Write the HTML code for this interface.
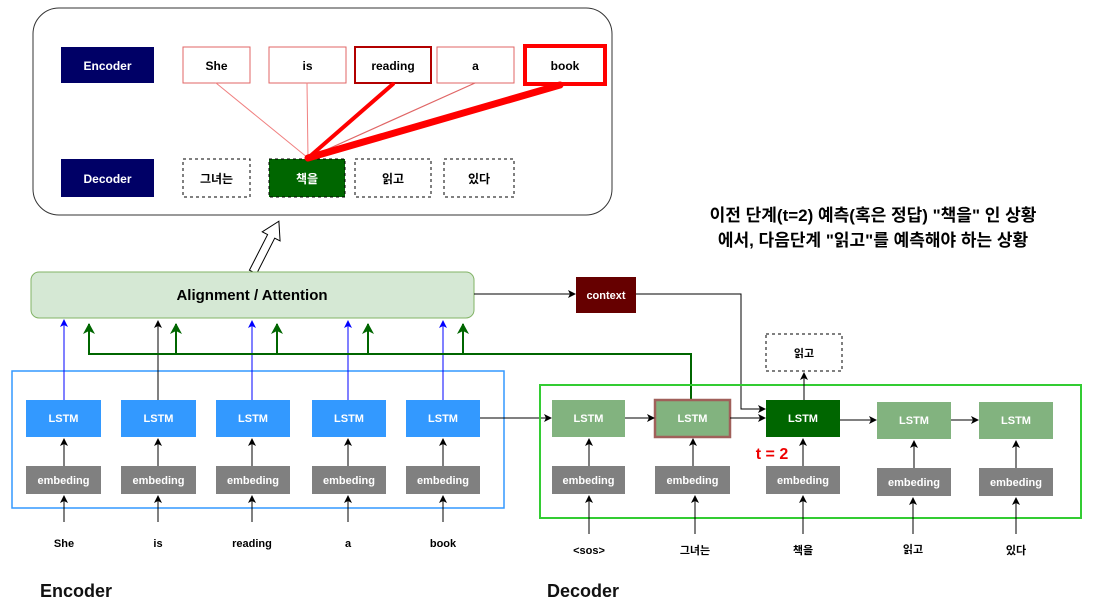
<!DOCTYPE html>
<html><head><meta charset="utf-8"><style>
body{margin:0;background:#fff;}
svg text{font-family:"Liberation Sans","Noto Sans CJK KR",sans-serif;font-weight:bold;}
</style></head><body>
<svg width="1110" height="611" viewBox="0 0 1110 611" xmlns="http://www.w3.org/2000/svg">
<defs>
<marker id="ak" markerWidth="8" markerHeight="8" refX="7" refY="4" orient="auto" markerUnits="userSpaceOnUse"><path d="M0,0 L8,4 L0,8 L2,4z" fill="#000"/></marker>
<marker id="ab" markerWidth="8" markerHeight="8" refX="7" refY="4" orient="auto" markerUnits="userSpaceOnUse"><path d="M0,0 L8,4 L0,8 L2,4z" fill="#0000ff"/></marker>
<marker id="ag" markerWidth="12" markerHeight="12" refX="10" refY="6" orient="auto" markerUnits="userSpaceOnUse"><path d="M0,0 L11,6 L0,12 L3,6z" fill="#006600"/></marker>
</defs>
<!-- top box -->
<rect x="33" y="8" width="579" height="207" rx="26" fill="#fff" stroke="#333" stroke-width="1"/>
<rect x="61" y="47" width="93" height="36" fill="#000066"/>
<text x="107.5" y="70" font-size="12" fill="#fff" text-anchor="middle">Encoder</text>
<rect x="61" y="159" width="93" height="38" fill="#000066"/>
<text x="107.5" y="183" font-size="12" fill="#fff" text-anchor="middle">Decoder</text>
<g font-size="12" text-anchor="middle" fill="#000">
<rect x="183" y="47" width="67" height="36" fill="#fff" stroke="#e06666" stroke-width="1"/><text x="216.5" y="70">She</text>
<rect x="269" y="47" width="77" height="36" fill="#fff" stroke="#e06666" stroke-width="1"/><text x="307.5" y="70">is</text>
<rect x="355" y="47" width="76" height="36" fill="#fff" stroke="#b20000" stroke-width="2"/><text x="393" y="70">reading</text>
<rect x="437" y="47" width="77" height="36" fill="#fff" stroke="#e06666" stroke-width="1"/><text x="475.5" y="70">a</text>
<rect x="525" y="46" width="80" height="38" fill="#fff" stroke="#ff0000" stroke-width="4"/><text x="565" y="70">book</text>
<rect x="183" y="159" width="67" height="38" fill="#fff" stroke="#000" stroke-dasharray="3,3"/><text x="216.5" y="183">그녀는</text>
<rect x="269" y="159" width="76" height="38" fill="#006600" stroke="#000" stroke-dasharray="3,3"/><text x="307" y="183" fill="#fff">책을</text>
<rect x="355" y="159" width="76" height="38" fill="#fff" stroke="#000" stroke-dasharray="3,3"/><text x="393" y="183">읽고</text>
<rect x="444" y="159" width="70" height="38" fill="#fff" stroke="#000" stroke-dasharray="3,3"/><text x="479" y="183">있다</text>
</g>
<g stroke-linecap="round">
<line x1="216" y1="83" x2="308" y2="158" stroke="#f08080" stroke-width="1"/>
<line x1="307" y1="83" x2="308" y2="158" stroke="#f08080" stroke-width="1"/>
<line x1="393" y1="84" x2="308" y2="158" stroke="#ff0000" stroke-width="4"/>
<line x1="475" y1="83" x2="308" y2="158" stroke="#e06666" stroke-width="1.2"/>
<line x1="560" y1="85" x2="308" y2="158" stroke="#ff0000" stroke-width="7"/>
</g>
<!-- hollow arrow -->
<g transform="translate(253,272) rotate(27)">
<path d="M-4,0 L4,0 L4,-40 L10,-40 L0,-57 L-10,-40 L-4,-40 Z" fill="#fff" stroke="#000" stroke-width="1"/>
</g>
<!-- attention -->
<rect x="31" y="272" width="443" height="46" rx="8" fill="#d5e8d4" stroke="#82b366"/>
<text x="252" y="300" font-size="15" text-anchor="middle">Alignment / Attention</text>
<rect x="576" y="277" width="60" height="36" fill="#660000"/>
<text x="606" y="299" font-size="11" fill="#fff" text-anchor="middle">context</text>
<line x1="474" y1="294" x2="575" y2="294" stroke="#000" marker-end="url(#ak)"/>
<polyline points="636,294 741,294 741,409 765,409" fill="none" stroke="#000" marker-end="url(#ak)"/>
<text x="873" y="221" font-size="17" text-anchor="middle">이전 단계(t=2) 예측(혹은 정답) "책을" 인 상황</text>
<text x="873" y="246" font-size="17" text-anchor="middle">에서, 다음단계 "읽고"를 예측해야 하는 상황</text>
<!-- encoder -->
<rect x="12" y="371" width="492" height="137" fill="none" stroke="#3399ff" stroke-width="1.5"/>
<g font-size="11" text-anchor="middle" fill="#fff">
<rect x="26" y="400" width="75" height="37" fill="#3399ff"/><text x="63.5" y="422">LSTM</text>
<rect x="121" y="400" width="75" height="37" fill="#3399ff"/><text x="158.5" y="422">LSTM</text>
<rect x="216" y="400" width="74" height="37" fill="#3399ff"/><text x="253" y="422">LSTM</text>
<rect x="312" y="400" width="74" height="37" fill="#3399ff"/><text x="349" y="422">LSTM</text>
<rect x="406" y="400" width="74" height="37" fill="#3399ff"/><text x="443" y="422">LSTM</text>
<rect x="26" y="466" width="75" height="28" fill="#808080"/><text x="63.5" y="484">embeding</text>
<rect x="121" y="466" width="75" height="28" fill="#808080"/><text x="158.5" y="484">embeding</text>
<rect x="216" y="466" width="74" height="28" fill="#808080"/><text x="253" y="484">embeding</text>
<rect x="312" y="466" width="74" height="28" fill="#808080"/><text x="349" y="484">embeding</text>
<rect x="406" y="466" width="74" height="28" fill="#808080"/><text x="443" y="484">embeding</text>
</g>
<g font-size="11" text-anchor="middle" fill="#000">
<text x="64" y="547">She</text><text x="158" y="547">is</text><text x="252" y="547">reading</text><text x="348" y="547">a</text><text x="443" y="547">book</text>
</g>
<g stroke="#000" marker-end="url(#ak)">
<line x1="64" y1="522" x2="64" y2="496"/><line x1="158" y1="522" x2="158" y2="496"/><line x1="252" y1="522" x2="252" y2="496"/><line x1="348" y1="522" x2="348" y2="496"/><line x1="443" y1="522" x2="443" y2="496"/>
<line x1="64" y1="466" x2="64" y2="439"/><line x1="158" y1="466" x2="158" y2="439"/><line x1="252" y1="466" x2="252" y2="439"/><line x1="348" y1="466" x2="348" y2="439"/><line x1="443" y1="466" x2="443" y2="439"/>
<line x1="158" y1="400" x2="158" y2="321"/>
<line x1="480" y1="418" x2="551" y2="418"/>
</g>
<g stroke="#0000ff" marker-end="url(#ab)">
<line x1="64" y1="400" x2="64" y2="320"/><line x1="252" y1="400" x2="252" y2="321"/><line x1="348" y1="400" x2="348" y2="321"/><line x1="443" y1="400" x2="443" y2="321"/>
</g>
<g stroke="#006600" stroke-width="2" fill="none">
<polyline points="691,400 691,354 89,354 89,324" marker-end="url(#ag)"/>
<line x1="176" y1="354" x2="176" y2="324" marker-end="url(#ag)"/>
<line x1="277" y1="354" x2="277" y2="324" marker-end="url(#ag)"/>
<line x1="368" y1="354" x2="368" y2="324" marker-end="url(#ag)"/>
<line x1="463" y1="354" x2="463" y2="324" marker-end="url(#ag)"/>
</g>
<!-- decoder -->
<rect x="540" y="385" width="541" height="133" fill="none" stroke="#33cc33" stroke-width="2"/>
<g font-size="11" text-anchor="middle" fill="#fff">
<rect x="552" y="400" width="73" height="37" fill="#82b37f"/><text x="588.5" y="422">LSTM</text>
<rect x="655" y="400" width="75" height="37" fill="#82b37f" stroke="#a0605a" stroke-width="2.5"/><text x="692.5" y="422">LSTM</text>
<rect x="766" y="400" width="74" height="37" fill="#006600"/><text x="803" y="422">LSTM</text>
<rect x="877" y="402" width="74" height="37" fill="#82b37f"/><text x="914" y="424">LSTM</text>
<rect x="979" y="402" width="74" height="37" fill="#82b37f"/><text x="1016" y="424">LSTM</text>
<rect x="552" y="466" width="73" height="28" fill="#808080"/><text x="588.5" y="484">embeding</text>
<rect x="655" y="466" width="75" height="28" fill="#808080"/><text x="692.5" y="484">embeding</text>
<rect x="766" y="466" width="74" height="28" fill="#808080"/><text x="803" y="484">embeding</text>
<rect x="877" y="468" width="74" height="28" fill="#808080"/><text x="914" y="486">embeding</text>
<rect x="979" y="468" width="74" height="28" fill="#808080"/><text x="1016" y="486">embeding</text>
</g>
<rect x="766" y="334" width="76" height="37" fill="#fff" stroke="#000" stroke-dasharray="3,3"/>
<text x="804" y="357" font-size="11" text-anchor="middle">읽고</text>
<text x="772" y="459" font-size="16" fill="#ee0000" text-anchor="middle">t = 2</text>
<g font-size="11" text-anchor="middle" fill="#000">
<text x="589" y="554">&lt;sos&gt;</text><text x="695" y="554">그녀는</text><text x="803" y="554">책을</text><text x="913" y="553">읽고</text><text x="1016" y="554">있다</text>
</g>
<g stroke="#000" marker-end="url(#ak)">
<line x1="589" y1="534" x2="589" y2="496"/><line x1="695" y1="534" x2="695" y2="496"/><line x1="803" y1="534" x2="803" y2="496"/><line x1="913" y1="534" x2="913" y2="498"/><line x1="1016" y1="534" x2="1016" y2="498"/>
<line x1="589" y1="466" x2="589" y2="439"/><line x1="693" y1="466" x2="693" y2="439"/><line x1="803" y1="466" x2="803" y2="439"/><line x1="914" y1="468" x2="914" y2="441"/><line x1="1016" y1="468" x2="1016" y2="441"/>
<line x1="625" y1="418" x2="654" y2="418"/><line x1="730" y1="418" x2="765" y2="418"/><line x1="840" y1="420" x2="876" y2="420"/><line x1="951" y1="420" x2="978" y2="420"/>
<line x1="804" y1="400" x2="804" y2="373"/>
</g>
<text x="40" y="597" font-size="18" fill="#111">Encoder</text>
<text x="547" y="597" font-size="18" fill="#111">Decoder</text>
</svg>
</body></html>
